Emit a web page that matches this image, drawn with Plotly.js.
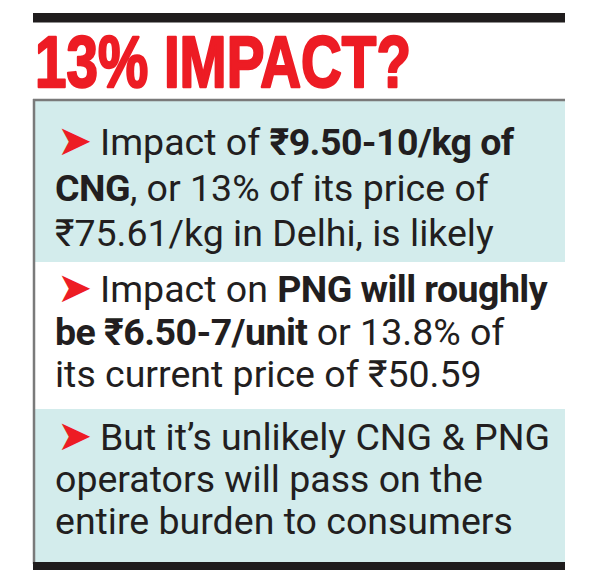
<!DOCTYPE html>
<html>
<head>
<meta charset="utf-8">
<script src="https://cdn.plot.ly/plotly-3.0.1.min.js"></script>
<style>html,body{margin:0;padding:0;background:#fff;}#chart{width:600px;height:584px;}</style>
</head>
<body>
<div id="chart"></div>
<script>
// ---- content ----
var titleText = "13% IMPACT?";
var arrowGlyph = "➤";
var section1Lines = ["Impact of <b>₹9.50-10/kg of</b>", "<b>CNG</b>, or 13% of its price of", "₹75.61/kg in Delhi, is likely"];
var section2Lines = ["Impact on <b>PNG will roughly</b>", "<b>be ₹6.50-7/unit</b> or 13.8% of", "its current price of ₹50.59"];
var section3Lines = ["But it’s unlikely CNG &amp; PNG", "operators will pass on the", "entire burden to consumers"];
var sections = [section1Lines, section2Lines, section3Lines];

// ---- styling / layout (pixel frame) ----
var W = 600, H = 584;
var RED = "#ed1c24", INK = "#221e20", TEAL = "#d3ecec", GREY = "#7a7a7a";
var bodyFont = "Roboto, Liberation Sans, Arial, sans-serif";
var bodySize = 37.5;
var boldSpacing = "-0.55px";
var boxLeft = 34, boxRight = 565;
var sectionTops = [101, 262, 409, 562];
var sectionFills = [TEAL, "#ffffff", TEAL];
var baselines = [[155, 201, 246], [302, 345, 387], [450, 492, 534]];
var baseOffset = 13;
var titleLeft = 34, titleRight = 412;

function styleBold(str) {
  return str.replace(/<b>/g, "<b><span style='letter-spacing:" + boldSpacing + "'>").replace(/<\/b>/g, "</span></b>");
}

var shapes = [];
shapes.push({type:"rect", xref:"x", yref:"y", x0:33, x1:boxRight, y0:13, y1:22.5, fillcolor:"#1f1c1d", line:{width:0}});
for (var s = 0; s < 3; s++) {
  shapes.push({type:"rect", xref:"x", yref:"y", x0:boxLeft, x1:boxRight, y0:sectionTops[s], y1:sectionTops[s+1], fillcolor:sectionFills[s], line:{width:0}, layer:"below"});
}
shapes.push({type:"line", xref:"x", yref:"y", x0:33, x1:boxRight, y0:100, y1:100, line:{color:GREY, width:2.5}});
shapes.push({type:"line", xref:"x", yref:"y", x0:34, x1:34, y0:99, y1:564, line:{color:GREY, width:2.5}});
shapes.push({type:"rect", xref:"x", yref:"y", x0:33, x1:boxRight, y0:562, y1:570, fillcolor:"#1f1c1d", line:{width:0}});

var annotations = [];
annotations.push({xref:"x", yref:"y", x:28, y:61.5, xanchor:"left", yanchor:"middle", showarrow:false,
  text:"<b>" + titleText + "</b>", font:{family:"Liberation Sans Narrow, Liberation Sans, Arial, sans-serif", size:72, color:RED}});
for (var s = 0; s < 3; s++) {
  for (var i = 0; i < 3; i++) {
    var isFirst = (i === 0);
    annotations.push({xref:"x", yref:"y", x: isFirst ? 98 : 53, y: baselines[s][i] - baseOffset,
      xanchor:"left", yanchor:"middle", showarrow:false, text: styleBold(sections[s][i]),
      font:{family:bodyFont, size:bodySize, color:INK}});
    if (isFirst) {
      annotations.push({xref:"x", yref:"y", x:74, y: baselines[s][i] - 14.5, xanchor:"center", yanchor:"middle",
        showarrow:false, text: arrowGlyph, font:{family:"DejaVu Sans, sans-serif", size:42, color:RED}});
    }
  }
}

var layout = {
  width: W, height: H,
  margin: {l:0, r:0, t:0, b:0},
  paper_bgcolor: "#ffffff", plot_bgcolor: "#ffffff",
  xaxis: {range:[0, W], visible:false, fixedrange:true},
  yaxis: {range:[H, 0], visible:false, fixedrange:true},
  shapes: shapes,
  annotations: annotations,
  showlegend: false
};
Plotly.newPlot("chart", [{x:[], y:[], type:"scatter", mode:"markers", hoverinfo:"skip"}], layout, {displayModeBar:false, staticPlot:true}).then(function(gd){
  // condense and embolden the headline to match the heavy narrow display face
  var t = gd.querySelectorAll('.annotation-text')[0];
  if (t) {
    t.style.stroke = RED;
    t.style.strokeWidth = "2.4px";
    t.style.strokeLinejoin = "round";
    var bb = t.getBBox();
    var svgRoot = t.ownerSVGElement;
    var ctm = t.getScreenCTM();
    var rootCtm = svgRoot.getScreenCTM();
    var leftPx = (ctm.e - rootCtm.e) + bb.x;
    var sc = (titleRight - titleLeft - 2) / bb.width;
    var dx = titleLeft + 1 - leftPx;
    var prev = t.getAttribute('transform') || '';
    t.setAttribute('transform', 'translate(' + (bb.x + dx) + ',0) scale(' + sc + ',1) translate(' + (-bb.x) + ',0) ' + prev);
  }
});
</script>
</body>
</html>
